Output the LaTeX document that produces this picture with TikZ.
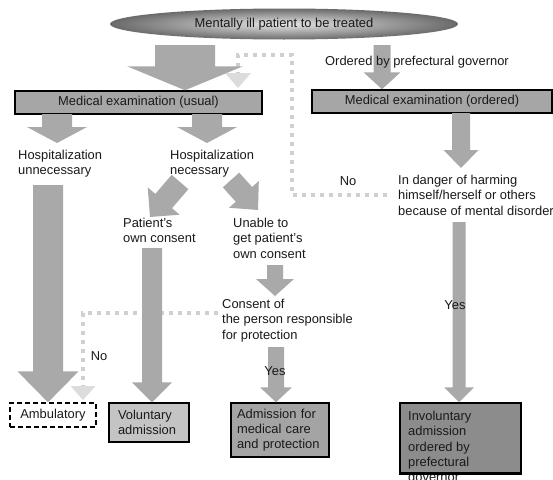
\documentclass[tikz,border=0pt]{standalone}
\usepackage{fontspec}
\setmainfont{Liberation Sans}
\usetikzlibrary{calc,shapes.geometric}
\definecolor{arrgray}{HTML}{A9A9A9}
\definecolor{dotgray}{HTML}{D0D0D0}
\definecolor{dotheadgray}{HTML}{DCDCDC}
\definecolor{boxgray}{HTML}{A6A6A6}
\definecolor{volgray}{HTML}{C4C4C4}
\definecolor{admgray}{HTML}{A4A4A4}
\definecolor{invgray}{HTML}{8C8C8C}
\definecolor{ellout}{HTML}{6A6A6A}
\definecolor{ellin}{HTML}{E6E6E6}
\definecolor{txtc}{HTML}{1A1A1A}

% block arrow: [opts]{from}{to}{shaft half width}{head half width}{head length}
\newcommand\blockarrow[6][]{%
  \path let \p1=($(#3)-(#2)$) in
    \pgfextra{\pgfmathsetmacro\baang{atan2(\y1,\x1)}%
      \pgfmathsetmacro\balen{veclen(\x1,\y1)}%
      \global\let\baang\baang\global\let\balen\balen};
  \fill[arrowfill,#1,shift={(#2)},rotate=\baang]
    (0,-#4) -- (\balen-#6,-#4) -- (\balen-#6,-#5) -- (\balen,0)
    -- (\balen-#6,#5) -- (\balen-#6,#4) -- (0,#4) -- cycle;}
% light head of a dotted connector: {tip}{half width}{length}
\newcommand\dothead[3]{%
  \fill[dotheadgray] (#1) -- ++(-#2,-#3) -- ++(2*#2,0) -- cycle;}

\begin{document}
\begin{tikzpicture}[x=1pt,y=-1pt,
  font=\fontsize{12.9}{15.3}\selectfont, text=txtc,
  every node/.style={inner sep=0pt},
  box/.style={draw=black,line width=1.5pt,fill=boxgray,inner sep=0pt},
  txt/.style={anchor=north west,align=left},
  arrowfill/.style={fill=arrgray},
  dots/.style={draw=dotgray,line width=4pt,dash pattern=on 4pt off 5pt},
  ellip/.style={ellipse,minimum width=348pt,minimum height=31pt,shade,inner color=ellin,outer color=ellout}]

\fill[white] (0,0) rectangle (553,479);
\useasboundingbox (0,0) rectangle (553,479);

% top
\node[ellip] (patient) at (284,24) {Mentally ill patient to be treated};

\node[box,minimum width=247pt,minimum height=23pt] (usual) at (138.5,102.5) {Medical examination (usual)};
\node[box,minimum width=240pt,minimum height=23pt] (ordered) at (432,101.5) {Medical examination (ordered)};

% texts
\node[txt] (hunnec) at (18,150) {Hospitalization\\unnecessary};
\node[txt] (hnec) at (170,150) {Hospitalization\\necessary};
\node[txt] (own) at (123,218) {Patient's\\own consent};
\node[txt] (unable) at (233,218) {Unable to\\get patient's\\own consent};
\node[txt] (consent) at (222,299) {Consent of\\the person responsible\\for protection};
\node[txt] (danger) at (398,175) {In danger of harming\\himself/herself or others\\because of mental disorder};

% bottom boxes
\node[box,fill=white,dash pattern=on 5pt off 3pt,line width=1.3pt,minimum width=86pt,minimum height=24pt] (amb) at (53,415) {Ambulatory};
\node[box,fill=volgray,text width=62pt,align=left,inner xsep=9pt,minimum height=39pt] (vol) at (149,422.5) {Voluntary\\admission};
\node[box,fill=admgray,text width=86pt,align=left,inner xsep=6pt,minimum height=54pt] (adm) at (280,430) {Admission for\\medical care\\and protection};
\node[box,fill=invgray,minimum width=121pt,minimum height=70pt] (invol) at (460.5,438) {};
\node[txt] (invtxt) at (408,411) {Involuntary\\admission\\ordered by\\prefectural\\governor};
\draw[line width=1.5pt] (invol.south west) -- (invol.south east);

% dotted "No" connectors
\coordinate (d1s) at (387,195);
\coordinate (d1c) at (292,195);
\coordinate (d1t) at (292,55);
\coordinate (d1h) at (238,73);
\coordinate (d1e) at (238,88);
\draw[dots] (d1s) -- (d1c) -- (d1t) -- (d1h |- d1t) -- (d1h);
\dothead{d1e}{13}{15}

\coordinate (d2s) at (218,313);
\coordinate (d2c) at (83,313);
\coordinate (d2h) at (83,386);
\coordinate (d2e) at (83,400);
\draw[dots] (d2s) -- (d2c) -- (d2h);
\dothead{d2e}{12.5}{14}

% block arrows
\coordinate (a1s) at (185,45);  \coordinate (a1e) at (a1s |- usual.north);
\blockarrow{a1s}{a1e}{30}{58}{24}
\coordinate (a2s) at (382,45);  \coordinate (a2e) at (a2s |- ordered.north);
\blockarrow{a2s}{a2e}{8.5}{18.5}{17}
\coordinate (a3s) at (57,114);  \coordinate (a3e) at (57,143);
\blockarrow{a3s}{a3e}{15}{30}{16}
\coordinate (a4s) at (207,114); \coordinate (a4e) at (207,143);
\blockarrow{a4s}{a4e}{15}{30}{16}
\coordinate (a5s) at (48,185);  \coordinate (a5e) at (a5s |- amb.north);
\blockarrow{a5s}{a5e}{15}{30.5}{31}
\coordinate (a6s) at (180,182); \coordinate (a6e) at (150,217);
\blockarrow{a6s}{a6e}{11}{21}{21}
\coordinate (a7s) at (231,180); \coordinate (a7e) at (258,210);
\blockarrow{a7s}{a7e}{11}{20}{21}
\coordinate (a8s) at (152,248); \coordinate (a8e) at (a8s |- vol.north);
\blockarrow{a8s}{a8e}{10}{20}{20}
\coordinate (a9s) at (275,265); \coordinate (a9e) at (275,296);
\blockarrow{a9s}{a9e}{8}{19}{17}
\coordinate (a10s) at (276,347); \coordinate (a10e) at (a10s |- adm.north);
\blockarrow{a10s}{a10e}{8}{16}{15}
\coordinate (a11s) at (461,113); \coordinate (a11e) at (461,168);
\blockarrow{a11s}{a11e}{9}{17.5}{18}
\coordinate (a12s) at (459,222); \coordinate (a12e) at (a12s |- invol.north);
\blockarrow{a12s}{a12e}{6.5}{15}{15}

% labels drawn over the arrows
\node[anchor=west] (ordtxt) at (325,62) {Ordered by prefectural governor};
\node (no1) at (348,181) {No};
\node (no2) at (99,356) {No};
\node (yes1) at (275,371) {Yes};
\node (yes2) at (455,305) {Yes};
\end{tikzpicture}
\end{document}
